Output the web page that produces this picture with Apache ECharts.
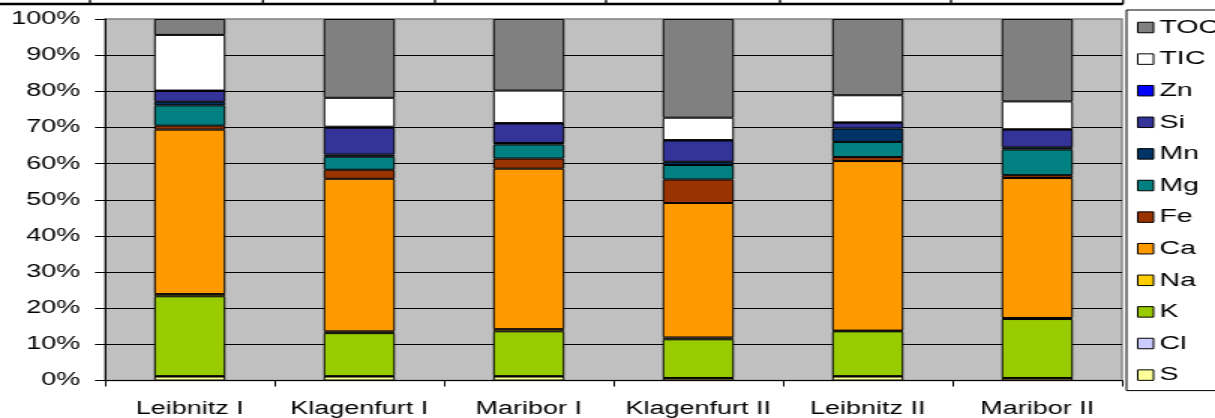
<!DOCTYPE html>
<html>
<head>
<meta charset="utf-8">
<script src="https://cdn.jsdelivr.net/npm/echarts@6/dist/echarts.min.js"></script>
<style>
  html, body { margin: 0; padding: 0; background: #fff; overflow: hidden; }
  #wrap { width: 1215px; height: 418px; overflow: hidden; position: relative; }
  /* chart is laid out narrower and widened horizontally */
  #chart { width: 810px; height: 418px; transform: scaleX(1.5); transform-origin: 0 0; }
</style>
</head>
<body>
<div id="wrap"><div id="chart"></div></div>
<script>
// Sites (x axis)
const sites = ['Leibnitz I', 'Klagenfurt I', 'Maribor I', 'Klagenfurt II', 'Leibnitz II', 'Maribor II'];

// Share of each component per site, in percent (stacked bottom to top)
const S   = [1.1, 1.1, 1.1, 0.6, 1.1, 0.6];
const Cl  = [0.1, 0.1, 0.1, 0.1, 0.1, 0.1];
const K   = [22.1, 11.9, 12.4, 10.7, 12.4, 16.3];
const Na  = [0.6, 0.5, 0.6, 0.5, 0.2, 0.3];
const Ca  = [45.5, 42.2, 44.4, 37.2, 46.9, 38.7];
const Fe  = [1.1, 2.5, 2.8, 6.5, 1.1, 0.8];
const Mg  = [5.6, 3.6, 3.9, 4.0, 4.2, 7.1];
const Mn  = [1.0, 0.6, 0.4, 0.9, 3.7, 0.6];
const Si  = [3.0, 7.4, 5.4, 5.9, 1.6, 4.9];
const Zn  = [0.1, 0.3, 0.1, 0.1, 0.1, 0.1];
const TIC = [15.4, 8.0, 9.0, 6.2, 7.5, 7.7];
const TOC = [4.4, 21.8, 19.8, 27.3, 21.1, 22.8];

// Y axis ticks
const yTicks = [0, 10, 20, 30, 40, 50, 60, 70, 80, 90, 100];

const seriesDefs = [
  ['S', S, '#FFFF99'],
  ['Cl', Cl, '#CCCCFF'],
  ['K', K, '#99CC00'],
  ['Na', Na, '#FFCC00'],
  ['Ca', Ca, '#FF9900'],
  ['Fe', Fe, '#993300'],
  ['Mg', Mg, '#008080'],
  ['Mn', Mn, '#003366'],
  ['Si', Si, '#333399'],
  ['Zn', Zn, '#0000FF'],
  ['TIC', TIC, '#FFFFFF'],
  ['TOC', TOC, '#808080']
];

const FONT = "'Liberation Sans', Arial, sans-serif";

const chart = echarts.init(document.getElementById('chart'), null, { renderer: 'canvas' });

// cut-off table rule above the chart
const tableX = [60, 175.3, 290, 404, 520, 634, 748.7];
const graphics = [{
  type: 'line', shape: { x1: 0, y1: 4, x2: 748.7, y2: 4 },
  style: { stroke: '#000', lineWidth: 2.5 }, z: 100
}].concat(tableX.map(x => ({
  type: 'line', shape: { x1: x, y1: 0, x2: x, y2: 4 },
  style: { stroke: '#000', lineWidth: 1.3 }, z: 100
})));

chart.setOption({
  animation: false,
  backgroundColor: '#ffffff',
  textStyle: { fontFamily: FONT },
  graphic: graphics,
  grid: {
    left: 70, right: 62, top: 19, bottom: 37,
    show: true, backgroundColor: '#C0C0C0',
    borderColor: '#808080', borderWidth: 1.3
  },
  legend: {
    orient: 'vertical',
    left: 751, top: 10,
    padding: [8, 40, 6, 7],
    itemWidth: 10.5, itemHeight: 10.5, itemGap: 12.6,
    icon: 'rect',
    backgroundColor: '#ffffff',
    borderColor: '#000', borderWidth: 1,
    itemStyle: { borderColor: '#000', borderWidth: 1 },
    textStyle: { fontFamily: FONT, fontSize: 19, color: '#000', padding: [0, 0, 0, -1] },
    data: seriesDefs.map(d => d[0]).reverse()
  },
  xAxis: {
    type: 'category',
    data: sites,
    axisLine: { lineStyle: { color: '#000', width: 1 } },
    axisTick: { show: true, length: 6, interval: 0, lineStyle: { color: '#000' } },
    axisLabel: { color: '#000', fontSize: 18, fontFamily: FONT, margin: 19.5, interval: 0 },
    splitLine: { show: false }
  },
  yAxis: {
    type: 'value',
    min: yTicks[0], max: yTicks[yTicks.length - 1], interval: yTicks[1] - yTicks[0],
    axisLine: { show: true, lineStyle: { color: '#000', width: 1 } },
    axisTick: { show: true, length: 6.7, lineStyle: { color: '#000' } },
    axisLabel: { color: '#000', fontSize: 18, fontFamily: FONT, margin: 16.5, formatter: '{value}%' },
    splitLine: { show: true, showMaxLine: false, lineStyle: { color: '#000', width: 1 } }
  },
  series: seriesDefs.map(([name, values, color]) => ({
    name: name,
    type: 'bar',
    stack: 'total',
    data: values,
    barWidth: 47.5,
    itemStyle: { color: color, borderColor: '#000', borderWidth: 1 }
  }))
});
</script>
</body>
</html>
